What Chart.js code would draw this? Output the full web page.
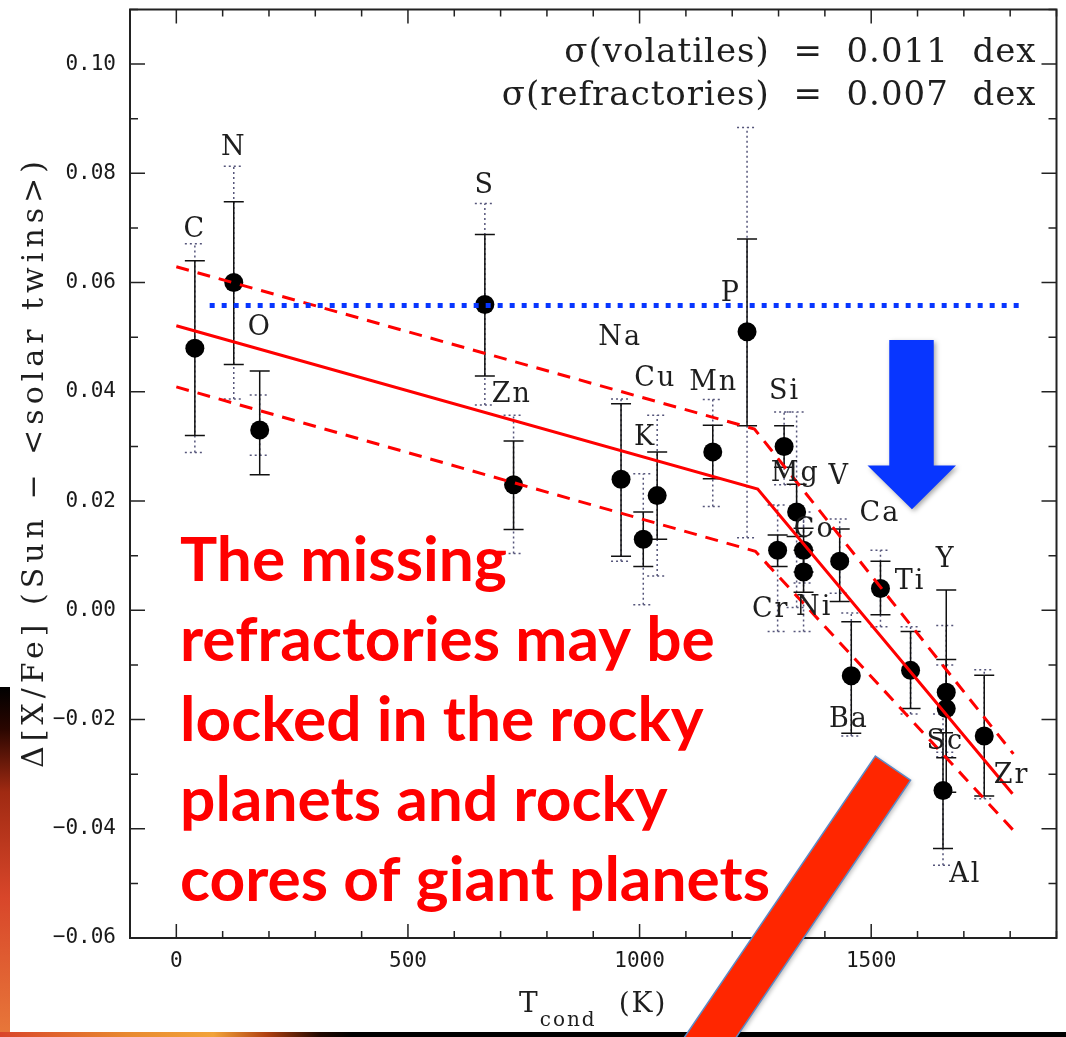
<!DOCTYPE html>
<html lang="en">
<head>
<meta charset="UTF-8">
<title>Sun vs solar twins: abundance trend with condensation temperature</title>
<script src="https://cdn.jsdelivr.net/npm/chart.js@4"></script>
<style>
  html, body { margin: 0; padding: 0; background: #fff; }
  #wrap { width: 1066px; height: 1037px; position: relative; }
</style>
</head>
<body>
<div id="wrap"><canvas id="abund"></canvas></div>
<script>
// elements and their 50% condensation temperatures (K)
const elements = ['C','N','O','S','Zn','Na','K','Cu','Mn','P','Si','Cr','Mg','Co','Ni','V','Ba','Ca','Ti','Y','Sc','Al','Zr'];
const tcond = [40,124,180,666,728,960,1008,1038,1158,1232,1312,1298,1339,1354,1354,1432,1457,1520,1585,1662,1662,1655,1744];
// Δ[X/Fe] (Sun - <solar twins>)
const dxfe = [0.048,0.060,0.033,0.056,0.023,0.024,0.013,0.021,0.029,0.051,0.030,0.011,0.018,0.011,0.007,0.009,-0.012,0.004,-0.011,-0.015,-0.018,-0.033,-0.023];
// solid error bars
const errLo = [0.0320,0.0450,0.0248,0.0429,0.0148,0.0099,0.0080,0.0130,0.0241,0.0338,0.0262,0.0080,0.0135,0.0070,0.0033,0.0016,-0.0225,-0.0008,-0.0180,-0.0333,-0.0270,-0.0436,-0.0340];
const errHi = [0.0640,0.0748,0.0438,0.0688,0.0310,0.0378,0.0180,0.0290,0.0339,0.0680,0.0338,0.0138,0.0231,0.0150,0.0110,0.0149,-0.0021,0.0090,-0.0039,0.0037,-0.0090,-0.0224,-0.0119];
// dotted error bars
const sysLo = [0.0289,0.0387,0.0284,0.0376,0.0104,0.0090,0.0010,0.0063,0.0190,0.0133,0.0230,-0.0039,0.0005,0.0050,-0.0039,0.0031,-0.0230,-0.0030,-0.0190,-0.0268,-0.0260,-0.0467,-0.0345];
const sysHi = [0.0671,0.0813,0.0394,0.0745,0.0357,0.0387,0.0250,0.0357,0.0386,0.0884,0.0363,0.0193,0.0363,0.0170,0.0180,0.0167,-0.0005,0.0110,-0.0030,-0.0028,-0.0100,-0.0190,-0.0109];
// where each element name sits (data units)
const labelT = [40,124,180,666,724,958,1012,1034,1160,1197,1313,1283,1336,1377,1377,1431,1452,1519,1584,1661,1660,1703,1803];
const labelV = [0.0697,0.0847,0.0517,0.0776,0.0394,0.0499,0.0316,0.0424,0.0417,0.0580,0.0400,0.0001,0.0250,0.0147,0.0004,0.0244,-0.0200,0.0177,0.0052,0.0092,-0.0242,-0.0485,-0.0303];

// fitted trend and its ±σ band
const fitT = [0, 1255, 1805];
const fitV = [0.0521, 0.0222, -0.0336];
const upperT = [0, 1248, 1807];
const upperV = [0.0629, 0.0332, -0.0263];
const lowerT = [0, 1250, 1807];
const lowerV = [0.0409, 0.0108, -0.0403];
// blue dotted reference level
const levelT = [72, 1829];
const levelV = [0.0558, 0.0558];

const xTicks = [0, 500, 1000, 1500];
const yTicks = [-0.06, -0.04, -0.02, 0, 0.02, 0.04, 0.06, 0.08, 0.10];

// overlay shapes, in data units
const arrowShaftT = [1539, 1635];
const arrowHeadT = [1492, 1683];
const arrowTip = [1588, 0.0185];
const arrowTopV = 0.0495;
const arrowShoulderV = 0.0265;
const barCorners = [[1509, -0.0267], [1585, -0.0311], [1099, -0.0919], [1023, -0.0874]];

const noteLines = ['The missing', 'refractories may be', 'locked in the rocky', 'planets and rocky', 'cores of giant planets'];

const toXY = (ts, vs) => ts.map((t, i) => ({ x: t, y: vs[i] }));
const serif = '"DejaVu Serif", serif';

const backdrop = {
  id: 'backdrop',
  beforeDraw(chart) {
    const { ctx, width, height } = chart;
    ctx.save();
    ctx.fillStyle = '#fff';
    ctx.fillRect(0, 0, width, height);
    // bits of the slide background peeking out at the edges
    let g = ctx.createLinearGradient(0, 687, 0, height);
    g.addColorStop(0, '#000');
    g.addColorStop(0.12, '#2a0600');
    g.addColorStop(0.3, '#a02a12');
    g.addColorStop(0.6, '#d8462a');
    g.addColorStop(1, '#e8783a');
    ctx.fillStyle = g;
    ctx.fillRect(0, 687, 10, height - 687);
    g = ctx.createLinearGradient(0, 0, width, 0);
    g.addColorStop(0, '#d9452a');
    g.addColorStop(0.12, '#e8892f');
    g.addColorStop(0.2, '#f2a33a');
    g.addColorStop(0.25, '#b04010');
    g.addColorStop(0.3, '#200800');
    g.addColorStop(0.33, '#000');
    g.addColorStop(1, '#000');
    ctx.fillStyle = g;
    ctx.fillRect(0, 1032, width, height - 1032);
    ctx.restore();
  }
};

function bar(ctx, x, y0, y1, w) {
  ctx.beginPath();
  ctx.moveTo(x, y0); ctx.lineTo(x, y1);
  ctx.moveTo(x - w, y0); ctx.lineTo(x + w, y0);
  ctx.moveTo(x - w, y1); ctx.lineTo(x + w, y1);
  ctx.stroke();
}

const errorBars = {
  id: 'errorBars',
  beforeDatasetsDraw(chart) {
    const { ctx, scales: { x, y } } = chart;
    ctx.save();
    ctx.lineWidth = 1.5;
    ctx.strokeStyle = '#55557a';
    ctx.setLineDash([2, 3]);
    tcond.forEach((t, i) => bar(ctx, x.getPixelForValue(t), y.getPixelForValue(sysLo[i]), y.getPixelForValue(sysHi[i]), 10));
    ctx.setLineDash([]);
    ctx.strokeStyle = '#111';
    tcond.forEach((t, i) => bar(ctx, x.getPixelForValue(t), y.getPixelForValue(errLo[i]), y.getPixelForValue(errHi[i]), 10));
    ctx.restore();
  }
};

const elementLabels = {
  id: 'elementLabels',
  afterDatasetsDraw(chart) {
    const { ctx, scales: { x, y } } = chart;
    ctx.save();
    ctx.font = '27px ' + serif;
    ctx.letterSpacing = '2px';
    ctx.fillStyle = '#1e1e1e';
    ctx.textAlign = 'center';
    ctx.textBaseline = 'middle';
    elements.forEach((el, i) => ctx.fillText(el, x.getPixelForValue(labelT[i]), y.getPixelForValue(labelV[i])));
    ctx.restore();
  }
};

const frame = {
  id: 'frame',
  afterDatasetsDraw(chart) {
    const { ctx, chartArea: a, scales: { x, y } } = chart;
    ctx.save();
    ctx.strokeStyle = '#222';
    ctx.lineWidth = 2;
    ctx.strokeRect(a.left, a.top, a.right - a.left, a.bottom - a.top);
    ctx.lineWidth = 1.5;
    ctx.beginPath();
    for (let t = -100; t <= 1900; t += 100) {
      const p = x.getPixelForValue(t);
      const len = t % 500 === 0 ? 14 : 7;
      ctx.moveTo(p, a.bottom); ctx.lineTo(p, a.bottom - len);
      ctx.moveTo(p, a.top); ctx.lineTo(p, a.top + len);
    }
    for (let k = -6; k <= 11; k++) {
      const p = y.getPixelForValue(k / 100);
      const len = k % 2 === 0 ? 15 : 8;
      ctx.moveTo(a.left, p); ctx.lineTo(a.left + len, p);
      ctx.moveTo(a.right, p); ctx.lineTo(a.right - len, p);
    }
    ctx.stroke();
    ctx.restore();
  }
};

const overlay = {
  id: 'overlay',
  afterDraw(chart) {
    const { ctx, chartArea: a, scales: { x, y } } = chart;
    const X = v => x.getPixelForValue(v), Y = v => y.getPixelForValue(v);
    ctx.save();

    // sigma text, top right
    ctx.fillStyle = '#1e1e1e';
    ctx.font = '34px ' + serif;
    ctx.letterSpacing = '1px';
    ctx.textAlign = 'right';
    ctx.textBaseline = 'alphabetic';
    ctx.fillText('σ(volatiles)  =  0.011  dex', a.right - 20, 62);
    ctx.fillText('σ(refractories)  =  0.007  dex', a.right - 20, 105);

    // y axis title
    ctx.save();
    ctx.translate(43, 768);
    ctx.rotate(-Math.PI / 2);
    ctx.textAlign = 'left';
    ctx.font = '30px ' + serif;
    ctx.letterSpacing = '5px';
    ctx.fillText('Δ[X/Fe] (Sun − <solar twins>)', 0, 0);
    ctx.restore();

    // x axis title
    ctx.letterSpacing = '2px';
    ctx.textAlign = 'left';
    ctx.font = '28px ' + serif;
    const wT = ctx.measureText('T').width;
    const wK = ctx.measureText('(K)').width;
    ctx.font = '20px ' + serif;
    const wSub = ctx.measureText('cond').width;
    const gap = 22;
    const total = wT + wSub + gap + wK;
    const cx = (a.left + a.right) / 2 - total / 2;
    ctx.font = '28px ' + serif;
    ctx.fillText('T', cx, 1012);
    ctx.font = '20px ' + serif;
    ctx.fillText('cond', cx + wT, 1026);
    ctx.font = '28px ' + serif;
    ctx.fillText('(K)', cx + wT + wSub + gap, 1012);

    // blue arrow
    ctx.save();
    ctx.shadowColor = 'rgba(0,0,0,0.35)';
    ctx.shadowBlur = 5;
    ctx.shadowOffsetX = 2;
    ctx.shadowOffsetY = 2;
    ctx.fillStyle = '#0836ff';
    ctx.beginPath();
    ctx.moveTo(X(arrowShaftT[0]), Y(arrowTopV));
    ctx.lineTo(X(arrowShaftT[1]), Y(arrowTopV));
    ctx.lineTo(X(arrowShaftT[1]), Y(arrowShoulderV));
    ctx.lineTo(X(arrowHeadT[1]), Y(arrowShoulderV));
    ctx.lineTo(X(arrowTip[0]), Y(arrowTip[1]));
    ctx.lineTo(X(arrowHeadT[0]), Y(arrowShoulderV));
    ctx.lineTo(X(arrowShaftT[0]), Y(arrowShoulderV));
    ctx.closePath();
    ctx.fill();
    ctx.restore();

    // red slanted bar
    ctx.save();
    ctx.shadowColor = 'rgba(0,0,0,0.25)';
    ctx.shadowBlur = 4;
    ctx.shadowOffsetX = 2;
    ctx.shadowOffsetY = 2;
    ctx.beginPath();
    barCorners.forEach(([t, v], i) => i ? ctx.lineTo(X(t), Y(v)) : ctx.moveTo(X(t), Y(v)));
    ctx.closePath();
    ctx.fillStyle = '#ff2600';
    ctx.fill();
    ctx.shadowColor = 'transparent';
    ctx.strokeStyle = '#5b8ac6';
    ctx.lineWidth = 1.5;
    ctx.stroke();
    ctx.restore();

    // red note
    ctx.save();
    ctx.letterSpacing = '0px';
    ctx.font = 'bold 62px Lato, "Open Sans", sans-serif';
    ctx.fillStyle = '#ff0000';
    ctx.textAlign = 'left';
    const widest = Math.max(...noteLines.map(s => ctx.measureText(s).width));
    const sx = 590 / widest;
    ctx.translate(X(8), Y(0.0054));
    ctx.scale(sx, 1);
    noteLines.forEach((s, i) => ctx.fillText(s, 0, i * 80));
    ctx.restore();

    ctx.restore();
  }
};

const tickFont = { family: '"DejaVu Sans Mono", monospace', size: 21 };

new Chart(document.getElementById('abund'), {
  type: 'scatter',
  data: {
    datasets: [
      { label: 'level', data: toXY(levelT, levelV), showLine: true, borderColor: '#0836ff', borderWidth: 5, borderDash: [5, 7], borderCapStyle: 'butt', pointRadius: 0 },
      { label: 'fit', data: toXY(fitT, fitV), showLine: true, borderColor: '#ff0000', borderWidth: 3, pointRadius: 0 },
      { label: 'fit + σ', data: toXY(upperT, upperV), showLine: true, borderColor: '#ff0000', borderWidth: 3, borderDash: [13, 9], pointRadius: 0 },
      { label: 'fit − σ', data: toXY(lowerT, lowerV), showLine: true, borderColor: '#ff0000', borderWidth: 3, borderDash: [13, 9], pointRadius: 0 },
      { label: 'Δ[X/Fe]', data: toXY(tcond, dxfe), backgroundColor: '#000', borderColor: '#000', borderWidth: 0, pointRadius: 9.5, pointHoverRadius: 9.5 }
    ]
  },
  options: {
    responsive: true,
    maintainAspectRatio: false,
    animation: false,
    events: [],
    layout: { padding: { top: 5, right: 6, left: 0, bottom: 0 } },
    plugins: { legend: { display: false }, tooltip: { enabled: false } },
    scales: {
      x: {
        type: 'linear', min: -100, max: 1900,
        grid: { display: false, drawTicks: false }, border: { display: false },
        afterBuildTicks: s => { s.ticks = xTicks.map(v => ({ value: v })); },
        afterFit: s => { s.height = 99; s.paddingLeft = 0; s.paddingRight = 0; },
        ticks: { font: tickFont, color: '#1a1a1a', padding: 11, maxRotation: 0, autoSkip: false, callback: v => String(v) }
      },
      y: {
        type: 'linear', min: -0.06, max: 0.11,
        grid: { display: false, drawTicks: false }, border: { display: false },
        afterBuildTicks: s => { s.ticks = yTicks.map(v => ({ value: v })); },
        afterFit: s => { s.width = 130; s.paddingTop = 0; s.paddingBottom = 0; },
        ticks: { font: tickFont, color: '#1a1a1a', padding: 14, autoSkip: false, callback: v => (v < 0 ? '−' : '') + Math.abs(v).toFixed(2) }
      }
    }
  },
  plugins: [backdrop, errorBars, elementLabels, frame, overlay]
});
</script>
</body>
</html>
